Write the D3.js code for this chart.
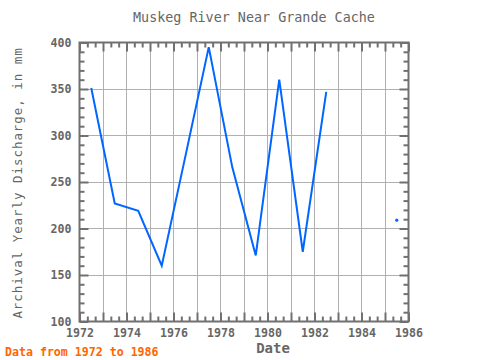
<!DOCTYPE html>
<html><head><meta charset="utf-8">
<script src="https://cdn.jsdelivr.net/npm/d3@7"></script>
<style>body{margin:0;background:#fff}svg{display:block}text{font-family:"DejaVu Sans Mono",monospace}</style>
</head><body>
<script>
const years = [1972.5,1973.5,1974.5,1975.5,1976.5,1977.5,1978.5,1979.5,1980.5,1981.5,1982.5,1983.5,1984.5,1985.5];
const discharge = [351,227,219,160,277,395,266,171,360,175,347,null,null,209];
const xTickLabels = [1972,1974,1976,1978,1980,1982,1984,1986];
const yTickLabels = [100,150,200,250,300,350,400];
const title = "Muskeg River Near Grande Cache";

const W=480,H=360, L=79.5, R=408.5, T=42.5, B=321.5;
const svg=d3.select("body").append("svg").attr("width",W).attr("height",H);
const x=d3.scaleLinear().domain([1972,1986]).range([L,R]);
const y=d3.scaleLinear().domain([100,400]).range([B,T]);
const axisCol="#707070", gridCol="#b0b0b0", txtCol="#666666";

// grid
svg.append("g").attr("shape-rendering","crispEdges").selectAll("line").data(d3.range(1973,1986)).join("line")
 .attr("x1",d=>x(d)).attr("x2",d=>x(d)).attr("y1",T).attr("y2",B).attr("stroke",gridCol).attr("stroke-width",1);
svg.append("g").attr("shape-rendering","crispEdges").selectAll("line").data(yTickLabels.slice(1,-1)).join("line")
 .attr("y1",d=>y(d)).attr("y2",d=>y(d)).attr("x1",L).attr("x2",R).attr("stroke",gridCol).attr("stroke-width",1);

// ticks
const xMinor=d3.range(0,42).map(i=>1972+i/3).filter(v=>Math.abs(v-Math.round(v))>0.01);
const xMajor=d3.range(1972,1987);
const yMinor=d3.range(100,401,10).filter(v=>v%50!==0);
function addAxis(axis, tr, vals, size){
  const g=svg.append("g").attr("transform",tr).call(axis.tickValues(vals).tickSize(size).tickFormat(""));
  g.select(".domain").remove();
  g.selectAll("line").attr("stroke",axisCol).attr("stroke-width",2);
  return g;
}
addAxis(d3.axisBottom(x),`translate(0,${B})`,xMinor,-5);
addAxis(d3.axisBottom(x),`translate(0,${B})`,xMajor,-9);
addAxis(d3.axisTop(x),`translate(0,${T})`,xMinor,-5);
addAxis(d3.axisTop(x),`translate(0,${T})`,xMajor,-9);
addAxis(d3.axisLeft(y),`translate(${L},0)`,yMinor,-5);
addAxis(d3.axisLeft(y),`translate(${L},0)`,yTickLabels,-9);
addAxis(d3.axisRight(y),`translate(${R},0)`,yMinor,-5);
addAxis(d3.axisRight(y),`translate(${R},0)`,yTickLabels,-9);

// tick labels
const gx=svg.append("g").attr("transform",`translate(0,${B})`).call(d3.axisBottom(x).tickValues(xTickLabels).tickSize(0).tickPadding(7).tickFormat(d3.format("d")));
gx.select(".domain").remove();
gx.selectAll("text").attr("fill",txtCol).attr("font-size","11.6px").attr("font-weight","bold").attr("font-family","DejaVu Sans Mono, monospace");
const gy=svg.append("g").attr("transform",`translate(${L},0)`).call(d3.axisLeft(y).tickValues(yTickLabels).tickSize(0).tickPadding(8).tickFormat(d3.format("d")));
gy.select(".domain").remove();
gy.selectAll("text").attr("fill",txtCol).attr("font-size","11.6px").attr("font-weight","bold").attr("font-family","DejaVu Sans Mono, monospace");

// frame
svg.append("rect").attr("x",L).attr("y",T).attr("width",R-L).attr("height",B-T).attr("fill","none").attr("stroke",axisCol).attr("stroke-width",2);

// data
const data=years.map((yr,i)=>({yr,v:discharge[i],
  iso: discharge[i]!=null && discharge[i-1]==null && discharge[i+1]==null}));
svg.append("path").datum(data).attr("fill","none").attr("stroke","#0066ff").attr("stroke-width",2)
 .attr("d",d3.line().defined(d=>d.v!=null).x(d=>x(d.yr)).y(d=>y(d.v)));
svg.append("g").selectAll("circle").data(data.filter(d=>d.iso)).join("circle")
 .attr("cx",d=>x(d.yr)).attr("cy",d=>y(d.v)).attr("r",1.6).attr("fill","#0066ff");

// texts
svg.append("text").attr("x",254).attr("y",22).attr("text-anchor","middle").attr("fill",txtCol).attr("font-size","13.4px").text(title);
svg.append("text").attr("x",273).attr("y",353).attr("text-anchor","middle").attr("fill",txtCol).attr("font-size","14px").attr("font-weight","bold").text("Date");
svg.append("text").attr("transform","translate(22,183) rotate(-90)").attr("text-anchor","middle").attr("fill",txtCol).attr("font-size","12.5px").attr("letter-spacing","0.95px").text("Archival Yearly Discharge, in mm");
svg.append("text").attr("x",5).attr("y",356).attr("fill","#ff6600").attr("font-size","11.6px").attr("font-weight","bold").text("Data from 1972 to 1986");
</script>
</body></html>
